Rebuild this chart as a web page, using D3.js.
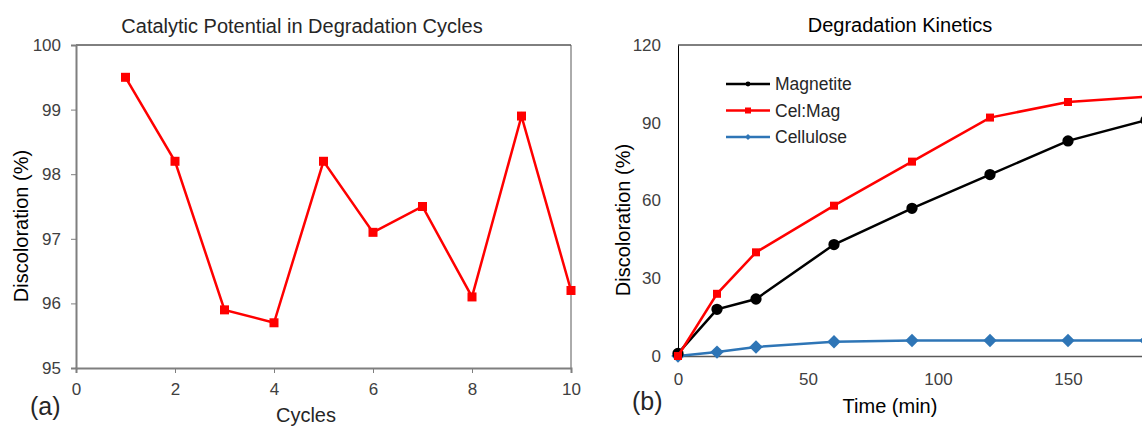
<!DOCTYPE html>
<html lang="en">
<head>
<meta charset="utf-8">
<title>Degradation charts</title>
<style>
  body { margin: 0; background: #fff; }
  svg text { font-family: "Liberation Sans", Arial, sans-serif; }
</style>
</head>
<body>
<div id="chart"></div>
<script src="https://d3js.org/d3.v7.min.js"></script>
<script>
// (a) catalytic potential over cycles
var cycles = [1, 2, 3, 4, 5, 6, 7, 8, 9, 10];
var cycleValues = [99.5, 98.2, 95.9, 95.7, 98.2, 97.1, 97.5, 96.1, 98.9, 96.2];
var cycleTicks = [0, 2, 4, 6, 8, 10];
var pctTicksA = [95, 96, 97, 98, 99, 100];

// (b) degradation kinetics
var times = [0, 15, 30, 60, 90, 120, 150, 180];
var magnetite = [1, 18, 22, 43, 57, 70, 83, 91];
var celMag = [0, 24, 40, 58, 75, 92, 98, 100];
var cellulose = [0, 1.5, 3.5, 5.5, 6, 6, 6, 6];
var timeTicks = [0, 50, 100, 150];
var pctTicksB = [0, 30, 60, 90, 120];
var seriesNames = ["Magnetite", "Cel:Mag", "Cellulose"];

var W = 1142, H = 427;
var svg = d3.select("#chart").append("svg")
    .attr("width", W)
    .attr("height", H);

// ---------- chart (a) ----------
var xa = d3.scaleLinear().domain([0, 10]).range([76, 571]);
var ya = d3.scaleLinear().domain([95, 100]).range([368, 45]);

// frame: top black, right grey
svg.append("line").attr("x1", 76).attr("x2", 571).attr("y1", 45).attr("y2", 45)
    .attr("stroke", "#000").attr("stroke-width", 1);
svg.append("line").attr("x1", 571).attr("x2", 571).attr("y1", 45).attr("y2", 368)
    .attr("stroke", "#595959").attr("stroke-width", 1);

var axA_y = svg.append("g")
    .attr("transform", "translate(76,0)")
    .call(d3.axisLeft(ya).tickValues(pctTicksA).tickSize(5).tickPadding(10).tickFormat(d3.format("d")));
var axA_x = svg.append("g")
    .attr("transform", "translate(0,368)")
    .call(d3.axisBottom(xa).tickValues(cycleTicks).tickSize(5).tickPadding(10));
[axA_y, axA_x].forEach(function(g) {
  g.select(".domain").attr("stroke", "#7f7f7f").attr("stroke-width", 2);
  g.selectAll(".tick line").attr("stroke", "#7f7f7f");
});

var lineA = d3.line()
    .x(function(d, i) { return xa(cycles[i]); })
    .y(function(d) { return ya(d); });
svg.append("path").datum(cycleValues)
    .attr("d", lineA)
    .attr("fill", "none")
    .attr("stroke", "#ff0000")
    .attr("stroke-width", 2.5);
svg.selectAll(".sqA").data(cycleValues).enter().append("rect")
    .attr("x", function(d, i) { return xa(cycles[i]) - 4.5; })
    .attr("y", function(d) { return ya(d) - 4.5; })
    .attr("width", 9).attr("height", 9)
    .attr("fill", "#ff0000");

svg.append("text").attr("x", 302).attr("y", 33)
    .attr("text-anchor", "middle").attr("font-size", 20).attr("fill", "#262626")
    .text("Catalytic Potential in Degradation Cycles");
svg.append("text").attr("transform", "translate(28,226) rotate(-90)")
    .attr("text-anchor", "middle").attr("font-size", 20).attr("fill", "#000")
    .text("Discoloration (%)");
svg.append("text").attr("x", 306).attr("y", 422)
    .attr("text-anchor", "middle").attr("font-size", 20).attr("fill", "#262626")
    .text("Cycles");
svg.append("text").attr("x", 30).attr("y", 415)
    .attr("font-size", 25).attr("fill", "#262626")
    .text("(a)");

// ---------- chart (b) ----------
var xb = d3.scaleLinear().domain([0, 200]).range([678, 1198]);
var yb = d3.scaleLinear().domain([0, 120]).range([356, 45]);

svg.append("line").attr("x1", 678).attr("x2", W).attr("y1", 45).attr("y2", 45)
    .attr("stroke", "#000").attr("stroke-width", 1);

var axB_y = svg.append("g")
    .attr("transform", "translate(678,0)")
    .call(d3.axisLeft(yb).tickValues(pctTicksB).tickSize(0).tickPadding(17));
var axB_x = svg.append("g")
    .attr("transform", "translate(0,356)")
    .call(d3.axisBottom(xb).tickValues(timeTicks).tickSize(0).tickPadding(17));
axB_y.select(".domain").attr("stroke", "#000").attr("stroke-width", 1);
axB_x.select(".domain").attr("stroke", "#595959").attr("stroke-width", 1.5);

svg.selectAll(".tick text").attr("fill", "#404040").attr("font-size", 17);

var seriesB = [
  { name: seriesNames[0], values: magnetite, color: "#000000", shape: "circle" },
  { name: seriesNames[1], values: celMag, color: "#ff0000", shape: "square" },
  { name: seriesNames[2], values: cellulose, color: "#2e75b6", shape: "diamond" }
];

var lineB = d3.line()
    .x(function(d, i) { return xb(times[i]); })
    .y(function(d) { return yb(d); });

function marker(sel, shape, size) {
  var sym = shape === "circle" ? d3.symbolCircle : d3.symbolSquare;
  sel.attr("d", d3.symbol().type(sym).size(size));
  return sel;
}
function place(shape) {
  return shape === "diamond" ? " rotate(45)" : "";
}

// draw cellulose first so black/red sit on top
[2, 0, 1].forEach(function(k) {
  var s = seriesB[k];
  svg.append("path").datum(s.values)
      .attr("d", lineB)
      .attr("fill", "none")
      .attr("stroke", s.color)
      .attr("stroke-width", 2.5);
  var size = s.shape === "circle" ? 100 : s.shape === "square" ? 64 : 90;
  svg.selectAll(".m" + k).data(s.values).enter().append("path")
      .attr("transform", function(d, i) {
        return "translate(" + xb(times[i]) + "," + yb(d) + ")" + place(s.shape);
      })
      .call(marker, s.shape, size)
      .attr("fill", s.color);
});

// legend
var legend = svg.append("g");
seriesB.forEach(function(s, i) {
  var ly = 84 + i * 26.5;
  legend.append("line").attr("x1", 726).attr("x2", 770).attr("y1", ly).attr("y2", ly)
      .attr("stroke", s.color).attr("stroke-width", 2.5);
  legend.append("path").attr("transform", "translate(748," + ly + ")" + place(s.shape))
      .call(marker, s.shape, s.shape === "square" ? 36 : 18)
      .attr("fill", s.color);
  legend.append("text").attr("x", 775).attr("y", ly + 6)
      .attr("font-size", 17.5).attr("fill", "#262626")
      .text(s.name);
});

svg.append("text").attr("x", 900).attr("y", 32)
    .attr("text-anchor", "middle").attr("font-size", 20).attr("fill", "#000")
    .text("Degradation Kinetics");
svg.append("text").attr("transform", "translate(630,220) rotate(-90)")
    .attr("text-anchor", "middle").attr("font-size", 20).attr("fill", "#000")
    .text("Discoloration (%)");
svg.append("text").attr("x", 890).attr("y", 413)
    .attr("text-anchor", "middle").attr("font-size", 20).attr("fill", "#000")
    .text("Time (min)");
svg.append("text").attr("x", 632).attr("y", 410)
    .attr("font-size", 25).attr("fill", "#262626")
    .text("(b)");
</script>
</body>
</html>
